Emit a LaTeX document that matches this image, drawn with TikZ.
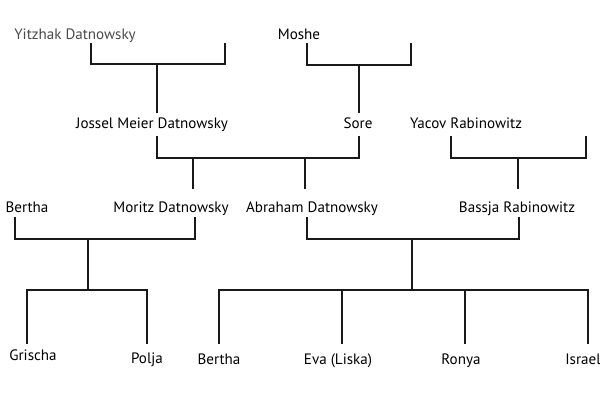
\documentclass[tikz,border=0pt]{standalone}
\usepackage{fontspec}
\setmainfont{PT Sans}
\definecolor{graytext}{HTML}{4A4A4A}
\begin{document}
\begin{tikzpicture}[x=0.75pt,y=-0.75pt,
  person/.style={font=\fontsize{11.3}{13}\selectfont, inner sep=0pt, anchor=base},
  link/.style={line width=1.5pt, line cap=rect, draw=black!90}]
\useasboundingbox (0,0) rectangle (600,404);
% row 0
\node[person, text=graytext] (yitzhak) at (75,39) {Yitzhak Datnowsky};
\node[person] (moshe) at (299,39) {Moshe};
% row 1
\node[person] (jossel) at (152,128) {Jossel Meier Datnowsky};
\node[person] (sore) at (358,128) {Sore};
\node[person] (yacov) at (466,128) {Yacov Rabinowitz};
% row 2
\node[person] (bertha) at (27,212) {Bertha};
\node[person] (moritz) at (171,212) {Moritz Datnowsky};
\node[person] (abraham) at (312,212) {Abraham Datnowsky};
\node[person] (bassja) at (517,212) {Bassja Rabinowitz};
% row 3
\node[person] (grischa) at (33,360) {Grischa};
\node[person] (polja) at (147,363) {Polja};
\node[person] (bertha2) at (219,364) {Bertha};
\node[person] (eva) at (338,364) {Eva (Liska)};
\node[person] (ronya) at (461,364) {Ronya};
\node[person] (israel) at (583,364) {Israel};

% bracket coordinates
\coordinate (yL) at (91,44);   \coordinate (yR) at (225,44);   \coordinate (yM) at (157,64);
\coordinate (mL) at (307,44);  \coordinate (mR) at (411,44);   \coordinate (mM) at (359,65);
\coordinate (jL) at (157,137); \coordinate (jR) at (359,137);  \coordinate (jBar) at (193,158);
\coordinate (rL) at (451,137); \coordinate (rR) at (586,137);  \coordinate (rM) at (518,158);
\coordinate (bL) at (15,218);  \coordinate (bR) at (195,218);  \coordinate (bM) at (88,239);
\coordinate (aL) at (307,218); \coordinate (aR) at (519,218);  \coordinate (aM) at (412,239);

% Yitzhak x ? -> Jossel
\draw[link] (yL) |- (yM -| yR) -- (yR);
\draw[link] (yM) -- (157,112);
% Moshe x ? -> Sore
\draw[link] (mL) |- (mM -| mR) -- (mR);
\draw[link] (mM) -- (359,112);
% Jossel x Sore -> Moritz, Abraham
\draw[link] (jL) |- (jBar -| jR) -- (jR);
\draw[link] (jBar) -- (193,188);
\draw[link] (305,158) -- (305,188);
% Yacov x ? -> Bassja
\draw[link] (rL) |- (rM -| rR) -- (rR);
\draw[link] (rM) -- (518,188);
% Bertha x Moritz
\draw[link] (bL) |- (bM -| bR) -- (bR);
\draw[link] (bM) -- (88,290);
\draw[link] (27,343) |- (147,290) -- (147,343);
% Abraham x Bassja
\draw[link] (aL) |- (aM -| aR) -- (aR);
\draw[link] (aM) -- (412,290);
\draw[link] (219,343) |- (588,290) -- (588,343);
\draw[link] (342,290) -- (342,343);
\draw[link] (465,290) -- (465,343);
\end{tikzpicture}
\end{document}
